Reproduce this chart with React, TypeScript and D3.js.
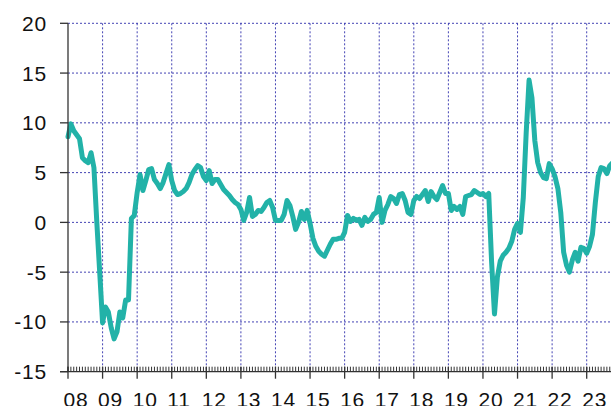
import React from "react";
import * as d3 from "d3";

const START_YEAR = 2008;
const yearLabels = ["08","09","10","11","12","13","14","15","16","17","18","19","20","21","22","23"];
const yTicks = [-15, -10, -5, 0, 5, 10, 15, 20];

const v2008 = [8.6, 9.9, 9.2, 8.8, 8.4, 6.5, 6.2, 6.0, 7.0, 5.5, 0.0, -5.0];
const v2009 = [-10.1, -8.5, -9.0, -10.6, -11.7, -11.0, -9.0, -9.6, -7.8, -7.8, 0.4, 0.7];
const v2010 = [3.0, 4.8, 3.2, 4.2, 5.3, 5.4, 4.3, 3.9, 3.4, 4.0, 4.9, 5.8];
const v2011 = [4.2, 3.2, 2.8, 2.9, 3.1, 3.4, 4.0, 4.8, 5.3, 5.7, 5.5, 4.6];
const v2012 = [4.2, 5.2, 3.9, 4.3, 4.3, 3.8, 3.3, 3.0, 2.7, 2.3, 2.0, 1.8];
const v2013 = [1.3, 0.2, 1.0, 2.5, 0.6, 0.8, 1.2, 1.1, 1.5, 2.0, 2.2, 1.5];
const v2014 = [0.2, 0.2, 0.2, 0.8, 2.2, 1.7, 0.6, -0.7, 0.0, 1.1, 0.3, 1.2];
const v2015 = [-0.1, -1.6, -2.4, -2.9, -3.2, -3.4, -2.8, -2.2, -1.7, -1.7, -1.6, -1.6];
const v2016 = [-1.0, 0.7, 0.1, 0.4, 0.2, 0.3, -0.3, 0.5, 0.1, 0.3, 0.8, 1.0];
const v2017 = [2.5, 0.0, 1.2, 1.8, 2.6, 2.4, 1.9, 2.8, 2.9, 2.2, 1.0, 0.8];
const v2018 = [2.2, 2.6, 2.4, 2.8, 3.2, 2.1, 3.1, 2.6, 2.3, 3.0, 3.7, 2.9];
const v2019 = [2.9, 1.2, 1.6, 1.3, 1.6, 0.8, 2.6, 2.7, 2.8, 3.2, 3.0, 2.8];
const v2020 = [2.9, 2.6, 2.9, -4.0, -9.2, -5.5, -3.9, -3.3, -3.0, -2.6, -1.9, -0.7];
const v2021 = [-0.1, -1.0, 2.5, 9.0, 14.3, 12.5, 8.2, 6.0, 5.0, 4.5, 4.4, 5.9];
const v2022 = [5.4, 4.6, 3.4, 1.0, -3.0, -4.3, -5.0, -3.8, -3.0, -3.9, -2.5, -2.6];
const v2023 = [-3.1, -2.4, -1.2, 2.0, 4.6, 5.5, 5.4, 4.9, 5.7, 6.0];

const values = [
  ...v2008, ...v2009, ...v2010, ...v2011, ...v2012, ...v2013, ...v2014, ...v2015,
  ...v2016, ...v2017, ...v2018, ...v2019, ...v2020, ...v2021, ...v2022, ...v2023,
];

export default function App() {
  const W = 611;
  const H = 406;
  const x = d3.scaleLinear().domain([2008, 2024]).range([68, 68 + 16 * 34.58]);
  const y = d3.scaleLinear().domain([-15, 20]).range([371.7, 23.3]);
  const data = values.map((v, i) => ({ t: START_YEAR + i / 12, v }));
  const line = d3
    .line<{ t: number; v: number }>()
    .x((d) => x(d.t))
    .y((d) => y(d.v));

  const years = yearLabels.map((_, i) => START_YEAR + i);
  const months = d3.range(0, 16 * 12 + 1).map((m) => START_YEAR + m / 12);
  const grid = "#2424a8";
  const x0 = x(2008);
  const yBottom = y(-15);
  const yTop = y(20);

  return (
    <svg
      width={W}
      height={H}
      style={{ position: "absolute", left: 0, top: 0, background: "#fff" }}
      fontFamily="'Liberation Sans', Arial, sans-serif"
    >
      {yTicks
        .filter((t) => t !== -15)
        .map((t) => (
          <line
            key={"hg" + t}
            x1={x0}
            x2={W}
            y1={y(t)}
            y2={y(t)}
            stroke={grid}
            strokeWidth={1}
            strokeDasharray="2,2"
            opacity={0.85}
          />
        ))}
      {years
        .filter((yr) => yr !== 2008)
        .map((yr) => (
          <line
            key={"vg" + yr}
            x1={x(yr)}
            x2={x(yr)}
            y1={yTop}
            y2={yBottom}
            stroke={grid}
            strokeWidth={1}
            strokeDasharray="2,2"
            opacity={0.85}
          />
        ))}
      <path
        d={line(data) || ""}
        fill="none"
        stroke="#22b2a8"
        strokeWidth={5}
        strokeLinejoin="round"
        strokeLinecap="round"
      />
      <line x1={x0} x2={x0} y1={yTop} y2={yBottom} stroke="#333" strokeWidth={1.3} />
      {yTicks.map((t) => (
        <g key={"yt" + t}>
          <line x1={60} x2={x0} y1={y(t)} y2={y(t)} stroke="#333" strokeWidth={1.3} />
          <text
            x={47}
            y={y(t)}
            dy="0.36em"
            textAnchor="end"
            fontSize={21}
            letterSpacing={0.8}
            fill="#111"
          >
            {t}
          </text>
        </g>
      ))}
      <line x1={60} x2={W} y1={yBottom} y2={yBottom} stroke="#333" strokeWidth={1.3} />
      {months.map((m, i) => (
        <line
          key={"mt" + i}
          x1={x(m)}
          x2={x(m)}
          y1={yBottom - 5}
          y2={yBottom}
          stroke="#333"
          strokeWidth={1}
        />
      ))}
      {years.map((yr, i) => (
        <g key={"xt" + yr}>
          <line x1={x(yr)} x2={x(yr)} y1={yBottom - 5} y2={yBottom + 7} stroke="#333" strokeWidth={1.3} />
          <text x={x(yr) - 4.5} y={407} textAnchor="start" fontSize={21} letterSpacing={0.8} fill="#111">
            {yearLabels[i]}
          </text>
        </g>
      ))}
    </svg>
  );
}
